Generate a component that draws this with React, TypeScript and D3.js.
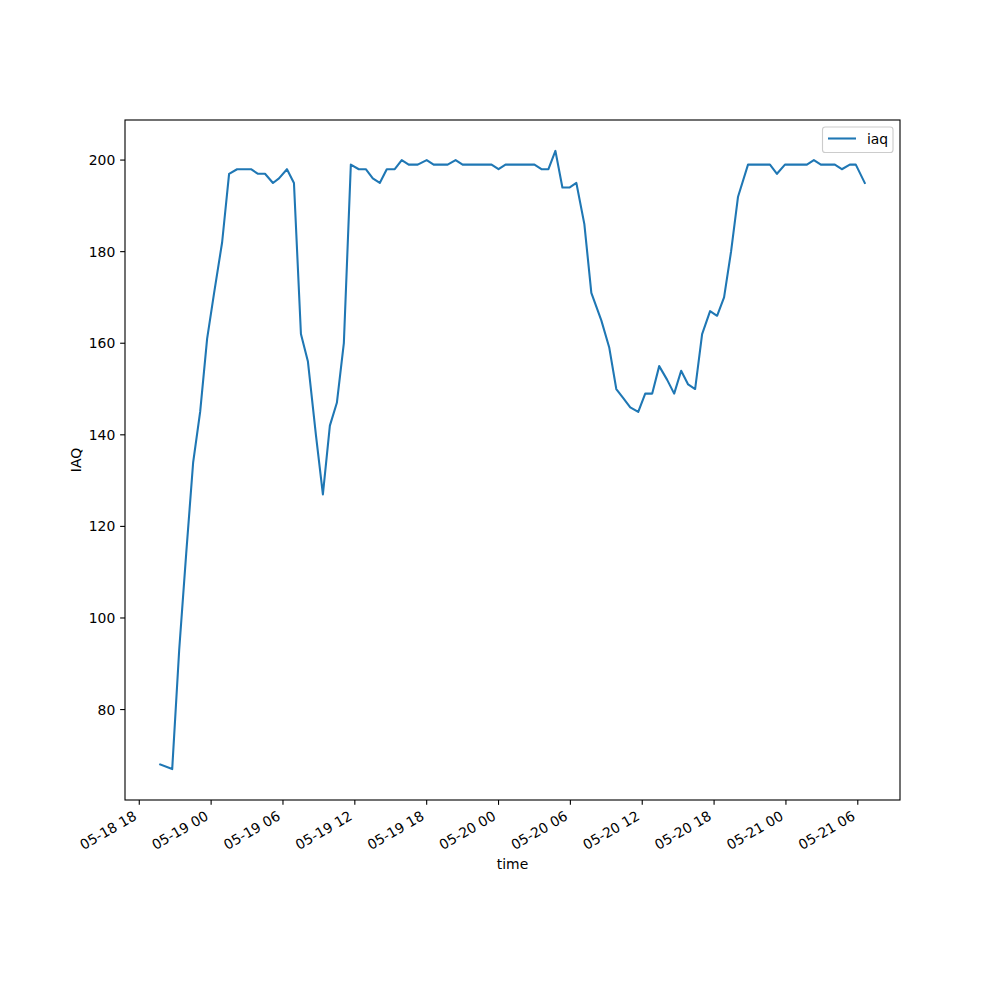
import * as d3 from "d3";

// IAQ readings
const times = [
  "2023-05-18 19:45", "2023-05-18 20:45", "2023-05-18 21:20", "2023-05-18 21:55", "2023-05-18 22:30",
  "2023-05-18 23:05", "2023-05-18 23:40", "2023-05-19 00:15", "2023-05-19 00:55", "2023-05-19 01:30",
  "2023-05-19 02:10", "2023-05-19 02:45", "2023-05-19 03:20", "2023-05-19 03:55", "2023-05-19 04:30",
  "2023-05-19 05:10", "2023-05-19 05:40", "2023-05-19 06:20", "2023-05-19 06:55", "2023-05-19 07:30",
  "2023-05-19 08:05", "2023-05-19 08:45", "2023-05-19 09:20", "2023-05-19 09:55", "2023-05-19 10:30",
  "2023-05-19 11:05", "2023-05-19 11:40", "2023-05-19 12:20", "2023-05-19 12:55", "2023-05-19 13:30",
  "2023-05-19 14:05", "2023-05-19 14:40", "2023-05-19 15:20", "2023-05-19 15:55", "2023-05-19 16:30",
  "2023-05-19 17:15", "2023-05-19 18:00", "2023-05-19 18:35", "2023-05-19 19:10", "2023-05-19 19:45",
  "2023-05-19 20:25", "2023-05-19 21:00", "2023-05-19 21:35", "2023-05-19 22:10", "2023-05-19 22:45",
  "2023-05-19 23:25", "2023-05-20 00:00", "2023-05-20 00:35", "2023-05-20 01:10", "2023-05-20 01:45",
  "2023-05-20 02:25", "2023-05-20 03:00", "2023-05-20 03:35", "2023-05-20 04:10", "2023-05-20 04:45",
  "2023-05-20 05:20", "2023-05-20 05:55", "2023-05-20 06:30", "2023-05-20 07:10", "2023-05-20 07:45",
  "2023-05-20 08:35", "2023-05-20 09:15", "2023-05-20 09:50", "2023-05-20 10:25", "2023-05-20 11:00",
  "2023-05-20 11:40", "2023-05-20 12:15", "2023-05-20 12:50", "2023-05-20 13:25", "2023-05-20 14:05",
  "2023-05-20 14:40", "2023-05-20 15:15", "2023-05-20 15:50", "2023-05-20 16:25", "2023-05-20 17:00",
  "2023-05-20 17:40", "2023-05-20 18:15", "2023-05-20 18:50", "2023-05-20 19:25", "2023-05-20 20:00",
  "2023-05-20 20:50", "2023-05-20 21:30", "2023-05-20 22:05", "2023-05-20 22:40", "2023-05-20 23:15",
  "2023-05-20 23:55", "2023-05-21 00:30", "2023-05-21 01:05", "2023-05-21 01:45", "2023-05-21 02:20",
  "2023-05-21 02:55", "2023-05-21 03:30", "2023-05-21 04:05", "2023-05-21 04:40", "2023-05-21 05:20",
  "2023-05-21 05:50", "2023-05-21 06:35",
];

const iaq = [
  68, 67, 93, 114, 134,
  145, 161, 171, 182, 197,
  198, 198, 198, 197, 197,
  195, 196, 198, 195, 162,
  156, 140, 127, 142, 147,
  160, 199, 198, 198, 196,
  195, 198, 198, 200, 199,
  199, 200, 199, 199, 199,
  200, 199, 199, 199, 199,
  199, 198, 199, 199, 199,
  199, 199, 198, 198, 202,
  194, 194, 195, 186, 171,
  165, 159, 150, 148, 146,
  145, 149, 149, 155, 152,
  149, 154, 151, 150, 162,
  167, 166, 170, 180, 192,
  199, 199, 199, 199, 197,
  199, 199, 199, 199, 200,
  199, 199, 199, 198, 199,
  199, 195,
];

const yTicks = [80, 100, 120, 140, 160, 180, 200];
const xTickStart = "2023-05-18 18:00";
const xTickEnd = "2023-05-21 06:00";

const W = 1000, H = 1000;
const left = 125, right = 900, top = 120, bottom = 800;
const font = "DejaVu Sans, sans-serif";
const fs = 13.9;
const tickLen = 4.86;
const blue = "#1f77b4";

export default function App() {
  const parse = d3.utcParse("%Y-%m-%d %H:%M");
  const dates = times.map((t) => parse(t) as Date);
  const points = dates.map((d, i) => ({ t: d, v: iaq[i] }));

  const [t0, t1] = d3.extent(dates) as [Date, Date];
  const span = +t1 - +t0;
  const xScale = d3
    .scaleUtc()
    .domain([new Date(+t0 - span * 0.05), new Date(+t1 + span * 0.05)])
    .range([left, right]);

  const [v0, v1] = d3.extent(iaq) as [number, number];
  const vs = v1 - v0;
  const yScale = d3
    .scaleLinear()
    .domain([v0 - vs * 0.05, v1 + vs * 0.05])
    .range([bottom, top]);

  const xTicks = d3.utcHour.every(6)!.range(parse(xTickStart) as Date, new Date(+(parse(xTickEnd) as Date) + 1));
  const fmt = d3.utcFormat("%m-%d %H");

  const line = d3
    .line<{ t: Date; v: number }>()
    .x((d) => xScale(d.t))
    .y((d) => yScale(d.v));

  return (
    <svg
      width={W}
      height={H}
      style={{ position: "absolute", left: 0, top: 0, background: "white" }}
      fontFamily={font}
    >
      <rect width={W} height={H} fill="white" />
      <defs>
        <clipPath id="plot-clip">
          <rect x={left} y={top} width={right - left} height={bottom - top} />
        </clipPath>
      </defs>
      <path d={line(points) ?? ""} fill="none" stroke={blue} strokeWidth={2.08} strokeLinejoin="round" strokeLinecap="square" clipPath="url(#plot-clip)" />

      {/* spines */}
      <rect x={left} y={top} width={right - left} height={bottom - top} fill="none" stroke="black" strokeWidth={1.11} />

      {/* y axis */}
      {yTicks.map((v) => (
        <g key={v}>
          <line x1={left - tickLen} x2={left} y1={yScale(v)} y2={yScale(v)} stroke="black" strokeWidth={1.11} />
          <text x={left - tickLen - 4.86} y={yScale(v)} dy="0.36em" textAnchor="end" fontSize={fs}>
            {v}
          </text>
        </g>
      ))}
      <text transform={`translate(81,${(top + bottom) / 2}) rotate(-90)`} textAnchor="middle" fontSize={fs}>
        IAQ
      </text>

      {/* x axis */}
      {xTicks.map((d) => {
        const x = xScale(d);
        const ax = x - 1.6;
        const ay = bottom + tickLen + 4.86 + 9.2;
        return (
          <g key={+d}>
            <line x1={x} x2={x} y1={bottom} y2={bottom + tickLen} stroke="black" strokeWidth={1.11} />
            <text x={ax} y={ay} textAnchor="end" fontSize={fs} transform={`rotate(-30,${ax},${ay})`}>
              {fmt(d)}
            </text>
          </g>
        );
      })}
      <text x={(left + right) / 2} y={869} textAnchor="middle" fontSize={fs}>
        time
      </text>

      {/* legend */}
      <rect x={822.5} y={127} width={70.5} height={25.5} rx={2.8} fill="white" fillOpacity={0.8} stroke="#cccccc" strokeWidth={1.11} />
      <line x1={828} x2={856} y1={138.5} y2={138.5} stroke={blue} strokeWidth={2.08} />
      <text x={867} y={143.5} fontSize={fs}>
        iaq
      </text>
    </svg>
  );
}
